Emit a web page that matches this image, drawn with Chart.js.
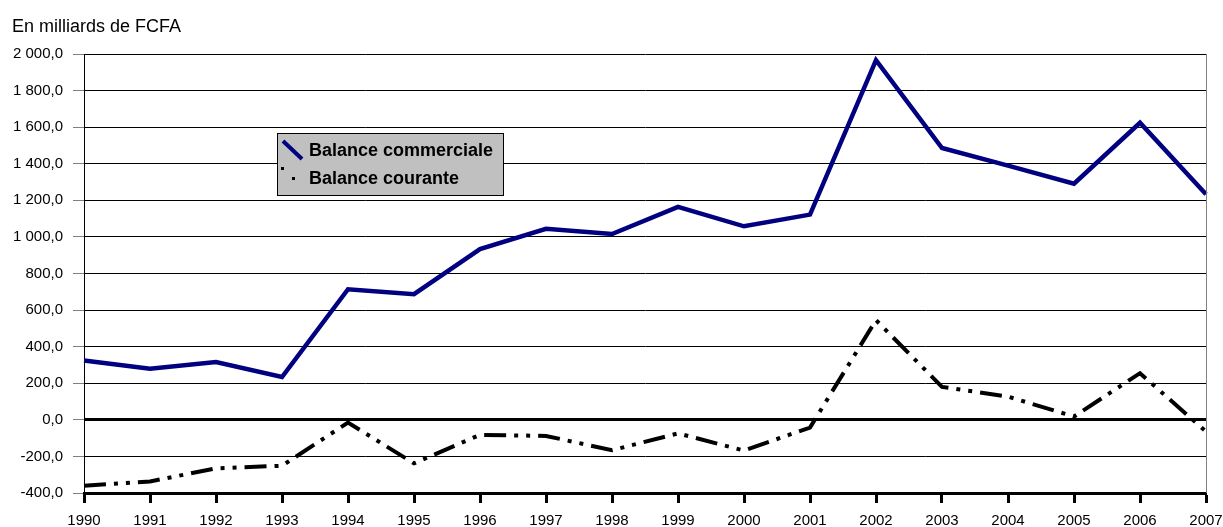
<!DOCTYPE html>
<html>
<head>
<meta charset="utf-8">
<script src="https://cdn.jsdelivr.net/npm/chart.js@4"></script>
<style>
  html, body { margin: 0; padding: 0; background: #fff; }
  #wrap { width: 1223px; height: 527px; }
</style>
</head>
<body>
<div id="wrap"><canvas id="chart" width="1223" height="527"></canvas></div>
<script>
const years = ['1990', '1991', '1992', '1993', '1994', '1995', '1996', '1997', '1998',
               '1999', '2000', '2001', '2002', '2003', '2004', '2005', '2006', '2007'];
const balanceCommerciale = [324, 280, 316, 234, 714, 687, 933, 1044, 1016,
                            1164, 1058, 1122, 1966, 1486, 1390, 1291, 1624, 1233];
const balanceCourante = [-360, -337, -265, -251, -15, -238, -82, -88, -166,
                         -74, -168, -42, 545, 180, 127, 18, 255, -64];
const legendLabels = ['Balance commerciale', 'Balance courante'];
const unitLabel = 'En milliards de FCFA';

const FONT = '"Liberation Sans", Arial, sans-serif';

// French number format: 1 800,0
function frNumber(v) {
    const s = Math.abs(v).toFixed(1).split('.');
    const intPart = s[0].replace(/\B(?=(\d{3})+(?!\d))/g, ' ');
    return (v < 0 ? '-' : '') + intPart + ',' + s[1];
}

const overlay = {
    id: 'overlay',
    afterDraw(chart) {
        const c = chart.ctx;
        const a = chart.chartArea;
        c.save();
        // right border of plot
        c.strokeStyle = '#808080';
        c.lineWidth = 1;
        c.beginPath();
        c.moveTo(Math.round(a.right) + 0.5, a.top);
        c.lineTo(Math.round(a.right) + 0.5, a.bottom);
        c.stroke();

        // unit label
        c.fillStyle = '#000';
        c.font = '18px ' + FONT;
        c.textBaseline = 'alphabetic';
        c.textAlign = 'left';
        c.fillText(unitLabel, 12, 32);

        // legend box
        const bx = 277.5, by = 133.5, bw = 226, bh = 62;
        c.fillStyle = '#c0c0c0';
        c.fillRect(bx, by, bw, bh);
        c.strokeStyle = '#000';
        c.lineWidth = 1;
        c.strokeRect(bx, by, bw, bh);

        // sample 1
        c.strokeStyle = '#000080';
        c.lineWidth = 4;
        c.lineCap = 'butt';
        c.beginPath();
        c.moveTo(283, 141);
        c.lineTo(302, 159);
        c.stroke();
        // sample 2 (dots)
        c.fillStyle = '#000';
        c.fillRect(281, 167, 3, 3);
        c.fillRect(292, 177, 3, 3);

        c.fillStyle = '#000';
        c.font = 'bold 18px ' + FONT;
        c.textBaseline = 'middle';
        c.fillText(legendLabels[0], 309, 151);
        c.fillText(legendLabels[1], 309, 179);
        c.restore();
    }
};

new Chart(document.getElementById('chart'), {
    type: 'line',
    data: {
        labels: years,
        datasets: [{
            label: legendLabels[0],
            data: balanceCommerciale,
            borderColor: '#000080',
            borderWidth: 4.5,
            pointRadius: 0,
            tension: 0,
            borderJoinStyle: 'miter',
            fill: false
        }, {
            label: legendLabels[1],
            data: balanceCourante,
            borderColor: '#000',
            borderWidth: 4,
            borderDash: [22, 8, 4, 8, 4, 8],
            borderCapStyle: 'butt',
            pointRadius: 0,
            tension: 0,
            fill: false
        }]
    },
    options: {
        responsive: false,
        animation: false,
        layout: { padding: { top: 54, right: 17, left: 0, bottom: 0 } },
        plugins: {
            legend: { display: false },
            tooltip: { enabled: false }
        },
        scales: {
            x: {
                offset: false,
                afterFit: function(s) {
                    s.height = 34;
                    s.paddingLeft = 0;
                    s.paddingRight = 0;
                },
                grid: {
                    drawOnChartArea: false,
                    drawTicks: true,
                    tickLength: 10,
                    tickWidth: 3,
                    tickColor: '#000',
                    offset: false
                },
                border: { display: true, color: '#000', width: 3 },
                ticks: {
                    color: '#000',
                    font: { family: FONT, size: 15 },
                    padding: 9,
                    autoSkip: false,
                    maxRotation: 0
                }
            },
            y: {
                min: -400,
                max: 2000,
                afterFit: function(s) {
                    s.width = 84;
                    s.paddingTop = 0;
                    s.paddingBottom = 0;
                },
                grid: {
                    color: '#000',
                    lineWidth: function(ctx) { return ctx.tick && ctx.tick.value === 0 ? 3 : 1; },
                    tickLength: 11,
                    tickWidth: 1,
                    tickColor: '#808080'
                },
                border: { display: true, color: '#000', width: 1 },
                ticks: {
                    stepSize: 200,
                    color: '#000',
                    font: { family: FONT, size: 15 },
                    padding: 10,
                    callback: function(value) { return frNumber(value); }
                }
            }
        }
    },
    plugins: [overlay]
});
</script>
</body>
</html>
